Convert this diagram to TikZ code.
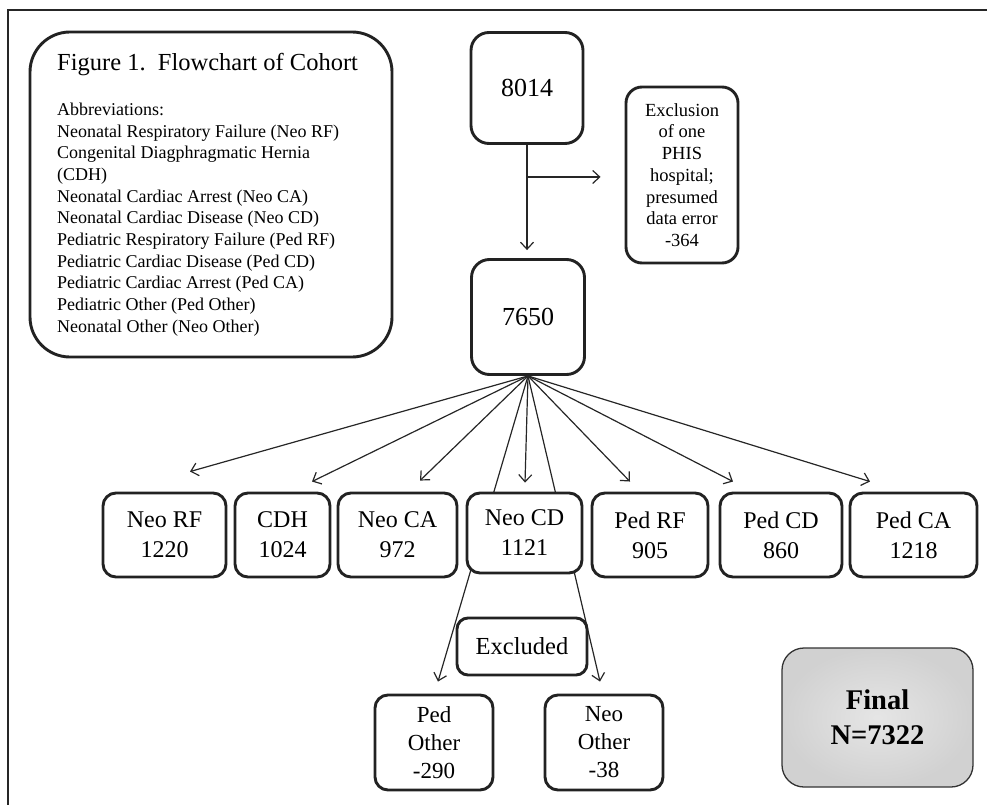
\documentclass[tikz,border=0pt]{standalone}
\usepackage{fontspec}
\setmainfont{Liberation Serif}
\usetikzlibrary{arrows.meta,calc}
\pgfdeclarelayer{bg}
\pgfsetlayers{bg,main}
\definecolor{boxline}{HTML}{222222}
\begin{document}
\begin{tikzpicture}[x=1pt,y=-1pt,
  box/.style={draw=boxline, line width=2.9pt, fill=white, rounded corners=13pt,
              inner sep=0pt, align=center},
  rowbox/.style={box, minimum height=84pt, font=\fontsize{24}{30}\selectfont},
  bigbox/.style={box, rounded corners=18pt, font=\fontsize{26}{30}\selectfont},
  otherbox/.style={box, minimum width=118pt, minimum height=95pt, font=\fontsize{23}{28}\selectfont},
  arr/.style={-{Straight Barb[length=7pt,width=13pt]}, line width=1.2pt, draw=black!85},
  frameline/.style={line width=1.5pt, draw=black!85}]
\useasboundingbox (0,0) rectangle (987,805);

% frame
\coordinate (fbl) at (8,805);
\coordinate (ftl) at (8,10);
\coordinate (ftr) at (987,10);
\draw[frameline] (fbl) -- (ftl) -- (ftr);

% legend box
\node[box, rounded corners=40pt, minimum width=362pt, minimum height=325pt] (legend) at (211,194.5) {};
\node[anchor=base west, inner sep=0pt, font=\fontsize{24.5}{28}\selectfont] (title) at (57,71) {Figure 1.\ \ Flowchart of Cohort};
\node[anchor=north west, align=left, inner sep=0pt, font=\fontsize{18}{21.7}\selectfont] (abbr) at (57,102.7)
 {Abbreviations:\\
  Neonatal Respiratory Failure (Neo RF)\\
  Congenital Diagphragmatic Hernia\\
  (CDH)\\
  Neonatal Cardiac Arrest (Neo CA)\\
  Neonatal Cardiac Disease (Neo CD)\\
  Pediatric Respiratory Failure (Ped RF)\\
  Pediatric Cardiac Disease (Ped CD)\\
  Pediatric Cardiac Arrest (Ped CA)\\
  Pediatric Other (Ped Other)\\
  Neonatal Other (Neo Other)};

% main column
\node[bigbox, minimum width=112pt, minimum height=111pt] (n8014) at (527,88) {8014};
\node[bigbox, minimum width=113pt, minimum height=115pt] (n7650) at (528,317) {7650};
\node[box, minimum width=112pt, minimum height=176pt, rounded corners=16pt,
      font=\fontsize{18.5}{21.7}\selectfont] (excl) at (682,175)
 {Exclusion\\ of one\\ PHIS\\ hospital;\\ presumed\\ data error\\ -364};

% row of groups
\node[rowbox, minimum width=123pt] (neorf) at (164.5,535) {Neo RF\\ 1220};
\node[rowbox, minimum width=95pt]  (cdh)   at (282.5,535) {CDH\\ 1024};
\node[rowbox, minimum width=119pt] (neoca) at (397.5,535) {Neo CA\\ 972};
\node[rowbox, minimum width=115pt, minimum height=80pt] (neocd) at (524.5,533) {Neo CD\\ 1121};
\node[rowbox, minimum width=116pt] (pedrf) at (650,535) {Ped RF\\ 905};
\node[rowbox, minimum width=122pt] (pedcd) at (781,535) {Ped CD\\ 860};
\node[rowbox, minimum width=127pt] (pedca) at (913.5,535) {Ped CA\\ 1218};

% excluded
\node[box, minimum width=130pt, minimum height=57pt, rounded corners=11pt,
      font=\fontsize{24.5}{28}\selectfont] (excluded) at (522,646.5) {Excluded};
\node[otherbox] (pedother) at (434,742.5) {Ped\\ Other\\ -290};
\node[otherbox] (neoother) at (604,742.5) {Neo\\ Other\\ -38};

% final
\node[draw=black!80, line width=1.3pt, rounded corners=22pt, minimum width=191pt, minimum height=139pt,
      inner color=gray!20, outer color=gray!36, align=center,
      font=\bfseries\fontsize{28.5}{35}\selectfont] (final) at (877.5,717.5) {Final\\ N=7322};

% connectors
\begin{pgfonlayer}{bg}
\draw[arr, shorten >=8pt] (n8014.south) -- (n8014.south |- n7650.north);
\coordinate (branch) at ($(n8014.south)+(0,32)$);
\draw[arr, shorten >=24pt] (branch) -- (branch -| excl.west);
\draw[arr] (n7650.south) -- ($(neorf.north)+(25.5,-20)$);
\draw[arr] (n7650.south) -- ($(cdh.north)+(29.5,-10)$);
\draw[arr] (n7650.south) -- ($(neoca.north)+(22.5,-11)$);
\draw[arr] (n7650.south) -- ($(neocd.north)+(0.5,-9)$);
\draw[arr] (n7650.south) -- ($(pedrf.north)+(-20,-10)$);
\draw[arr] (n7650.south) -- ($(pedcd.north)+(-48,-10)$);
\draw[arr] (n7650.south) -- ($(pedca.north)+(-43.5,-10)$);
\draw[arr] (n7650.south) -- ($(pedother.north)+(4,-12)$);
\draw[arr] (n7650.south) -- ($(neoother.north)+(-4,-12)$);
\end{pgfonlayer}
\end{tikzpicture}
\end{document}
